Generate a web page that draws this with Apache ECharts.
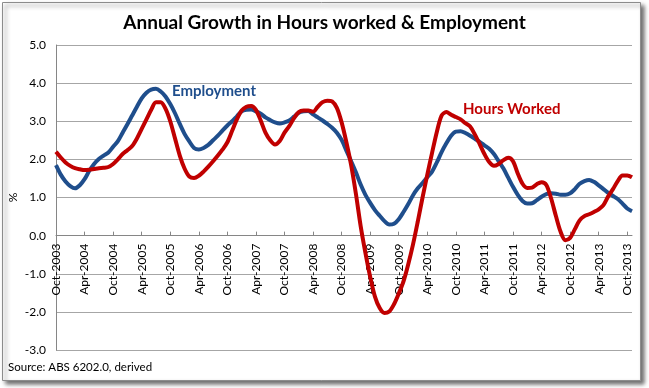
<!DOCTYPE html>
<html>
<head>
<meta charset="utf-8">
<script src="https://cdn.jsdelivr.net/npm/echarts@6/dist/echarts.min.js"></script>
<style>
html,body{margin:0;padding:0;background:#fff;}
#c{width:649px;height:388px;}
</style>
</head>
<body>
<div id="c"></div>
<script>
// Monthly categories Oct-2003 .. Nov-2013
const monthNames = ['Jan','Feb','Mar','Apr','May','Jun','Jul','Aug','Sep','Oct','Nov','Dec'];
const categories = [];
for (let y = 2003, m = 9; categories.length < 122; m++) {
  if (m === 12) { m = 0; y++; }
  categories.push(monthNames[m] + '-' + y);
}
const tickLabels = ['Oct-2003','Apr-2004','Oct-2004','Apr-2005','Oct-2005','Apr-2006','Oct-2006','Apr-2007','Oct-2007','Apr-2008','Oct-2008','Apr-2009','Oct-2009','Apr-2010','Oct-2010','Apr-2011','Oct-2011','Apr-2012','Oct-2012','Apr-2013','Oct-2013'];

const employment = [
1.85,1.60,1.42,1.30,1.24,1.32,1.48,1.70,1.88,2.01,
2.10,2.18,2.33,2.48,2.70,2.92,3.15,3.38,3.60,3.75,
3.83,3.85,3.78,3.65,3.45,3.21,2.93,2.67,2.47,2.30,
2.26,2.30,2.38,2.50,2.62,2.76,2.89,3.00,3.13,3.26,
3.30,3.31,3.26,3.20,3.10,3.03,2.97,2.94,2.97,3.02,
3.12,3.22,3.26,3.27,3.18,3.10,3.02,2.93,2.83,2.70,
2.51,2.23,1.95,1.66,1.34,1.07,0.86,0.67,0.52,0.38,
0.29,0.31,0.43,0.62,0.83,1.06,1.24,1.38,1.53,1.68,
1.92,2.19,2.42,2.62,2.73,2.74,2.69,2.62,2.54,2.46,
2.37,2.28,2.14,1.95,1.76,1.52,1.28,1.07,0.91,0.84,
0.85,0.93,1.02,1.09,1.11,1.10,1.07,1.07,1.11,1.22,
1.36,1.43,1.46,1.41,1.32,1.22,1.12,1.04,0.96,0.84,
0.71,0.64
];
const hoursWorked = [
2.20,2.05,1.92,1.83,1.77,1.74,1.72,1.73,1.75,1.77,
1.78,1.80,1.88,2.00,2.14,2.24,2.35,2.55,2.80,3.05,
3.30,3.50,3.50,3.33,3.00,2.55,2.10,1.76,1.55,1.51,
1.57,1.68,1.81,1.95,2.10,2.26,2.45,2.75,3.05,3.28,
3.38,3.40,3.30,3.02,2.70,2.50,2.39,2.48,2.70,2.87,
3.08,3.24,3.28,3.28,3.25,3.38,3.50,3.54,3.52,3.35,
2.97,2.45,1.85,1.10,0.25,-0.45,-1.08,-1.60,-1.90,-2.03,
-1.99,-1.80,-1.52,-1.20,-0.75,-0.23,0.37,1.00,1.60,2.17,
2.72,3.15,3.24,3.17,3.11,3.05,2.95,2.86,2.65,2.40,
2.14,1.93,1.83,1.88,1.98,2.04,1.95,1.63,1.36,1.25,
1.26,1.35,1.40,1.33,0.98,0.52,0.10,-0.12,-0.06,0.17,
0.40,0.51,0.56,0.62,0.69,0.80,1.03,1.22,1.43,1.58,
1.58,1.53
];

const FONT = 'Lato, "Open Sans", sans-serif';
const Y_MIN = -3, Y_MAX = 5;
const GRID = {left:56, right:17, top:45, bottom:38};
const gridH = 388 - GRID.top - GRID.bottom;
const zeroOffset = -gridH * (0 - Y_MIN) / (Y_MAX - Y_MIN);

const chart = echarts.init(document.getElementById('c'), null, {renderer:'canvas'});
const showTick = (i) => tickLabels.indexOf(categories[i]) >= 0;
chart.setOption({
  animation: false,
  backgroundColor: '#ffffff',
  textStyle: {fontFamily: FONT},
  title: {
    text: 'Annual Growth in Hours worked & Employment',
    left: 'center', top: 8,
    textStyle: {fontFamily: FONT, fontSize: 19, fontWeight: 'bold', color: '#000'}
  },
  graphic: [
    {type:'rect', z:-100, shape:{x:2.5,y:2.5,width:638,height:378},
     style:{fill:'#fff', stroke:'#8c8c8c', lineWidth:1, shadowBlur:4, shadowOffsetX:3, shadowOffsetY:3, shadowColor:'rgba(0,0,0,0.55)'}},
    {type:'text', left:8, top:361, style:{text:'Source: ABS 6202.0, derived', font:'11.5px ' + FONT, fill:'#000'}},
    {type:'text', left:172, top:84, style:{text:'Employment', font:'bold 15px ' + FONT, fill:'#1F4E8C'}},
    {type:'text', left:463, top:102, style:{text:'Hours Worked', font:'bold 15px ' + FONT, fill:'#C00000'}}
  ],
  grid: Object.assign({containLabel:false, outerBoundsMode:'none'}, GRID),
  xAxis: {
    type:'category', data: categories, boundaryGap:false,
    offset: zeroOffset,
    axisLine:{onZero:false, lineStyle:{color:'#868686', width:1}},
    axisTick:{inside:true, length:4, interval:(i)=>showTick(i), lineStyle:{color:'#868686'}},
    axisLabel:{interval:(i)=>showTick(i), rotate:90, margin:8, fontSize:12, color:'#000', fontFamily:FONT},
    splitLine:{show:false}
  },
  yAxis: {
    type:'value', min:Y_MIN, max:Y_MAX, interval:1,
    name:'%', nameLocation:'middle', nameGap:37, nameRotate:90, nameMoveOverlap:false,
    nameTextStyle:{fontSize:12, color:'#000', fontFamily:FONT},
    axisLine:{show:true, lineStyle:{color:'#868686'}},
    axisTick:{show:false},
    axisLabel:{formatter:(v)=>v.toFixed(1), fontSize:12, color:'#000', margin:10, fontFamily:FONT},
    splitLine:{lineStyle:{color:'#a6a6a6', width:1}}
  },
  series: [
    {name:'Employment', type:'line', data: employment, smooth:0.3, showSymbol:false,
     lineStyle:{color:'#1F4E8C', width:4}, z:2},
    {name:'Hours Worked', type:'line', data: hoursWorked, smooth:0.3, showSymbol:false,
     lineStyle:{color:'#C00000', width:4}, z:3}
  ]
});
</script>
</body>
</html>
